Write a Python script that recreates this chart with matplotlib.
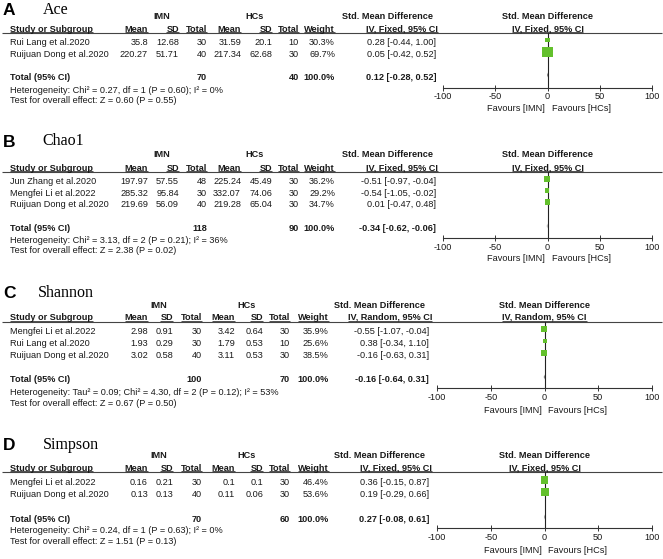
import matplotlib
matplotlib.use('Agg')
import matplotlib.pyplot as plt

plt.rcParams['font.family'] = ['Liberation Sans', 'DejaVu Sans']
plt.rcParams['axes.unicode_minus'] = False

# ---------------- data ----------------
ace_studies = ["Rui Lang et al.2020", "Ruijuan Dong et al.2020"]
ace_imn_mean = [35.8, 220.27]
ace_imn_sd = [12.68, 51.71]
ace_imn_n = [30, 40]
ace_hc_mean = [31.59, 217.34]
ace_hc_sd = [20.1, 62.68]
ace_hc_n = [10, 30]
ace_weight = [30.3, 69.7]
ace_smd = [0.28, 0.05]
ace_lo = [-0.44, -0.42]
ace_hi = [1.00, 0.52]
ace_total = [0.12, -0.28, 0.52]
ace_het = "Heterogeneity: Chi\u00b2 = 0.27, df = 1 (P = 0.60); I\u00b2 = 0%"
ace_test = "Test for overall effect: Z = 0.60 (P = 0.55)"

chao_studies = ["Jun Zhang et al.2020", "Mengfei Li et al.2022", "Ruijuan Dong et al.2020"]
chao_imn_mean = [197.97, 285.32, 219.69]
chao_imn_sd = [57.55, 95.84, 56.09]
chao_imn_n = [48, 30, 40]
chao_hc_mean = [225.24, 332.07, 219.28]
chao_hc_sd = [45.49, 74.06, 65.04]
chao_hc_n = [30, 30, 30]
chao_weight = [36.2, 29.2, 34.7]
chao_smd = [-0.51, -0.54, 0.01]
chao_lo = [-0.97, -1.05, -0.47]
chao_hi = [-0.04, -0.02, 0.48]
chao_total = [-0.34, -0.62, -0.06]
chao_het = "Heterogeneity: Chi\u00b2 = 3.13, df = 2 (P = 0.21); I\u00b2 = 36%"
chao_test = "Test for overall effect: Z = 2.38 (P = 0.02)"

shan_studies = ["Mengfei Li et al.2022", "Rui Lang et al.2020", "Ruijuan Dong et al.2020"]
shan_imn_mean = [2.98, 1.93, 3.02]
shan_imn_sd = [0.91, 0.29, 0.58]
shan_imn_n = [30, 30, 40]
shan_hc_mean = [3.42, 1.79, 3.11]
shan_hc_sd = [0.64, 0.53, 0.53]
shan_hc_n = [30, 10, 30]
shan_weight = [35.9, 25.6, 38.5]
shan_smd = [-0.55, 0.38, -0.16]
shan_lo = [-1.07, -0.34, -0.63]
shan_hi = [-0.04, 1.10, 0.31]
shan_total = [-0.16, -0.64, 0.31]
shan_het = "Heterogeneity: Tau\u00b2 = 0.09; Chi\u00b2 = 4.30, df = 2 (P = 0.12); I\u00b2 = 53%"
shan_test = "Test for overall effect: Z = 0.67 (P = 0.50)"

simp_studies = ["Mengfei Li et al.2022", "Ruijuan Dong et al.2020"]
simp_imn_mean = [0.16, 0.13]
simp_imn_sd = [0.21, 0.13]
simp_imn_n = [30, 40]
simp_hc_mean = [0.1, 0.11]
simp_hc_sd = [0.1, 0.06]
simp_hc_n = [30, 30]
simp_weight = [46.4, 53.6]
simp_smd = [0.36, 0.19]
simp_lo = [-0.15, -0.29]
simp_hi = [0.87, 0.66]
simp_total = [0.27, -0.08, 0.61]
simp_het = "Heterogeneity: Chi\u00b2 = 0.24, df = 1 (P = 0.63); I\u00b2 = 0%"
simp_test = "Test for overall effect: Z = 1.51 (P = 0.13)"

total_weight = 100.0
panel_letters = ["A", "B", "C", "D"]
panel_titles = ["Ace", "Chao1", "Shannon", "Simpson"]
panel_methods = ["IV, Fixed, 95% CI", "IV, Fixed, 95% CI", "IV, Random, 95% CI", "IV, Fixed, 95% CI"]
x_ticks = [-100, -50, 0, 50, 100]

# ---------------- styling ----------------
W, H = 663, 559
FS = 6.6
TXT = '#1a1a1a'
GREEN = '#63c02c'

fig = plt.figure(figsize=(W / 100, H / 100), dpi=100)
ax = fig.add_axes([0, 0, 1, 1])
ax.set_xlim(0, W)
ax.set_ylim(H, 0)
ax.axis('off')

underlines = []


def txt(x, y, s, ha='left', bold=False, ul=None, **kw):
    t = ax.text(x, y + 3.2, s, ha=ha, va='baseline', fontsize=FS,
                fontweight='bold' if bold else 'normal', color=TXT, **kw)
    if ul is not None:
        underlines.append((t, ul))
    return t


cols1 = dict(study=10, m1=148, s1=179, n1=207, m2=241, s2=272, n2=299, wt=335,
             ci=436, smd_c=387, iv_r=438, imn_c=162, hcs_c=255, ax_l=443, ax_r=652)
cols2 = dict(study=10, m1=148, s1=173, n1=202, m2=235, s2=263, n2=290, wt=329,
             ci=429, smd_c=380, iv_r=432, imn_c=159, hcs_c=247, ax_l=437, ax_r=652)

layouts = [
    dict(c=cols1, lab_base=15, title_base=13.5, title_x=43, grp=16, head=28.5, line=33,
         rows=[42, 54], total=77, het=90, test=100, axis=87.5, fav=108),
    dict(c=cols1, lab_base=147, title_base=145, title_x=42, grp=154, head=167.5, line=172,
         rows=[181, 192.5, 204], total=228, het=240, test=250, axis=238, fav=258),
    dict(c=cols2, lab_base=298, title_base=297, title_x=38, grp=305, head=316.5, line=321.5,
         rows=[331, 343, 355], total=379, het=392, test=403, axis=388, fav=410),
    dict(c=cols2, lab_base=450, title_base=449, title_x=43, grp=455, head=467.5, line=472,
         rows=[482, 494], total=519, het=530, test=541, axis=528, fav=550),
]

panels = [
    (ace_studies, ace_imn_mean, ace_imn_sd, ace_imn_n, ace_hc_mean, ace_hc_sd, ace_hc_n,
     ace_weight, ace_smd, ace_lo, ace_hi, ace_total, ace_het, ace_test),
    (chao_studies, chao_imn_mean, chao_imn_sd, chao_imn_n, chao_hc_mean, chao_hc_sd, chao_hc_n,
     chao_weight, chao_smd, chao_lo, chao_hi, chao_total, chao_het, chao_test),
    (shan_studies, shan_imn_mean, shan_imn_sd, shan_imn_n, shan_hc_mean, shan_hc_sd, shan_hc_n,
     shan_weight, shan_smd, shan_lo, shan_hi, shan_total, shan_het, shan_test),
    (simp_studies, simp_imn_mean, simp_imn_sd, simp_imn_n, simp_hc_mean, simp_hc_sd, simp_hc_n,
     simp_weight, simp_smd, simp_lo, simp_hi, simp_total, simp_het, simp_test),
]

for i, (data, L) in enumerate(zip(panels, layouts)):
    (studies, m1, s1, n1, m2, s2, n2, wt, smd, lo, hi, tot, het, test) = data
    c = L['c']
    # panel letter and title
    ax.text(3, L['lab_base'], panel_letters[i], fontsize=12.5, fontweight='bold',
            color='black', va='baseline', ha='left')
    ax.text(L['title_x'], L['title_base'], panel_titles[i], fontsize=11.5,
            family=['Liberation Serif', 'DejaVu Serif'], color='black', va='baseline', ha='left')
    # group headers
    txt(c['imn_c'], L['grp'], "IMN", ha='center', bold=True)
    txt(c['hcs_c'], L['grp'], "HCs", ha='center', bold=True)
    txt(c['smd_c'], L['grp'], "Std. Mean Difference", ha='center', bold=True)
    x0 = (c['ax_l'] + c['ax_r']) / 2
    txt(x0, L['grp'], "Std. Mean Difference", ha='center', bold=True)
    # column headers
    hy = L['head']
    ul = L['line'] - 1.0
    txt(c['study'], hy, "Study or Subgroup", bold=True, ul=ul)
    txt(c['m1'], hy, "Mean", ha='right', bold=True, ul=ul)
    txt(c['s1'], hy, "SD", ha='right', bold=True, ul=ul)
    txt(c['n1'], hy, "Total", ha='right', bold=True, ul=ul)
    txt(c['m2'], hy, "Mean", ha='right', bold=True, ul=ul)
    txt(c['s2'], hy, "SD", ha='right', bold=True, ul=ul)
    txt(c['n2'], hy, "Total", ha='right', bold=True, ul=ul)
    txt(c['wt'], hy, "Weight", ha='right', bold=True, ul=ul)
    txt(c['iv_r'], hy, panel_methods[i], ha='right', bold=True, ul=ul)
    txt(x0, hy, panel_methods[i], ha='center', bold=True, ul=ul)
    ax.plot([2, 662], [L['line'], L['line']], color='#444444', lw=0.8, solid_capstyle='butt')
    # study rows
    for j, st in enumerate(studies):
        y = L['rows'][j]
        txt(c['study'], y, st)
        txt(c['m1'], y, f"{m1[j]:g}", ha='right')
        txt(c['s1'], y, f"{s1[j]:g}", ha='right')
        txt(c['n1'], y, f"{n1[j]}", ha='right')
        txt(c['m2'], y, f"{m2[j]:g}", ha='right')
        txt(c['s2'], y, f"{s2[j]:g}", ha='right')
        txt(c['n2'], y, f"{n2[j]}", ha='right')
        txt(c['wt'], y, f"{wt[j]:.1f}%", ha='right')
        txt(c['ci'], y, f"{smd[j]:.2f} [{lo[j]:.2f}, {hi[j]:.2f}]", ha='right')
    # total row
    ty = L['total']
    txt(c['study'], ty, "Total (95% CI)", bold=True)
    txt(c['n1'], ty, f"{sum(n1)}", ha='right', bold=True)
    txt(c['n2'], ty, f"{sum(n2)}", ha='right', bold=True)
    txt(c['wt'], ty, f"{total_weight:.1f}%", ha='right', bold=True)
    txt(c['ci'], ty, f"{tot[0]:.2f} [{tot[1]:.2f}, {tot[2]:.2f}]", ha='right', bold=True)
    txt(c['study'], L['het'], het)
    txt(c['study'], L['test'], test)
    # favours labels
    txt(x0 - 3, L['fav'], "Favours [IMN]", ha='right')
    txt(x0 + 4, L['fav'], "Favours [HCs]", ha='left')

    # forest axes (y in pixel units of the figure)
    top, bot = L['line'], L['axis']
    axf = fig.add_axes([c['ax_l'] / W, 1 - bot / H, (c['ax_r'] - c['ax_l']) / W, (bot - top) / H])
    axf.set_xlim(-100, 100)
    axf.set_ylim(bot, top)
    axf.patch.set_visible(False)
    for s in ['top', 'left', 'right']:
        axf.spines[s].set_visible(False)
    axf.spines['bottom'].set_color('#333333')
    axf.spines['bottom'].set_linewidth(0.8)
    axf.set_yticks([])
    axf.set_xticks(x_ticks)
    axf.set_xticklabels([f"{t}" for t in x_ticks])
    axf.tick_params(axis='x', direction='inout', length=4, width=0.7, colors='#333333',
                    labelsize=FS, labelcolor=TXT, pad=1.5)
    axf.axvline(0, color='#222222', lw=0.8)
    ry = [r - 2 for r in L['rows']]
    axf.hlines(ry, lo, hi, color='#222222', lw=0.8)
    axf.scatter(smd, ry, marker='s', s=[(0.155 * w * 0.72) ** 2 for w in wt],
                color=GREEN, edgecolors='none', zorder=3, clip_on=False)
    dy = ty - 2
    axf.fill([tot[1], tot[0], tot[2], tot[0]], [dy, dy - 2.5, dy, dy + 2.5], color='#555555',
             lw=0, clip_on=False)

# underline header texts
fig.canvas.draw()
r = fig.canvas.get_renderer()
inv = ax.transData.inverted()
for t, uy in underlines:
    bb = t.get_window_extent(r)
    (xa, _), (xb, _) = inv.transform([(bb.x0, bb.y0), (bb.x1, bb.y1)])
    ax.plot([xa, xb], [uy, uy], color='#333333', lw=0.6, solid_capstyle='butt')

fig.savefig('out.png', dpi=100)
